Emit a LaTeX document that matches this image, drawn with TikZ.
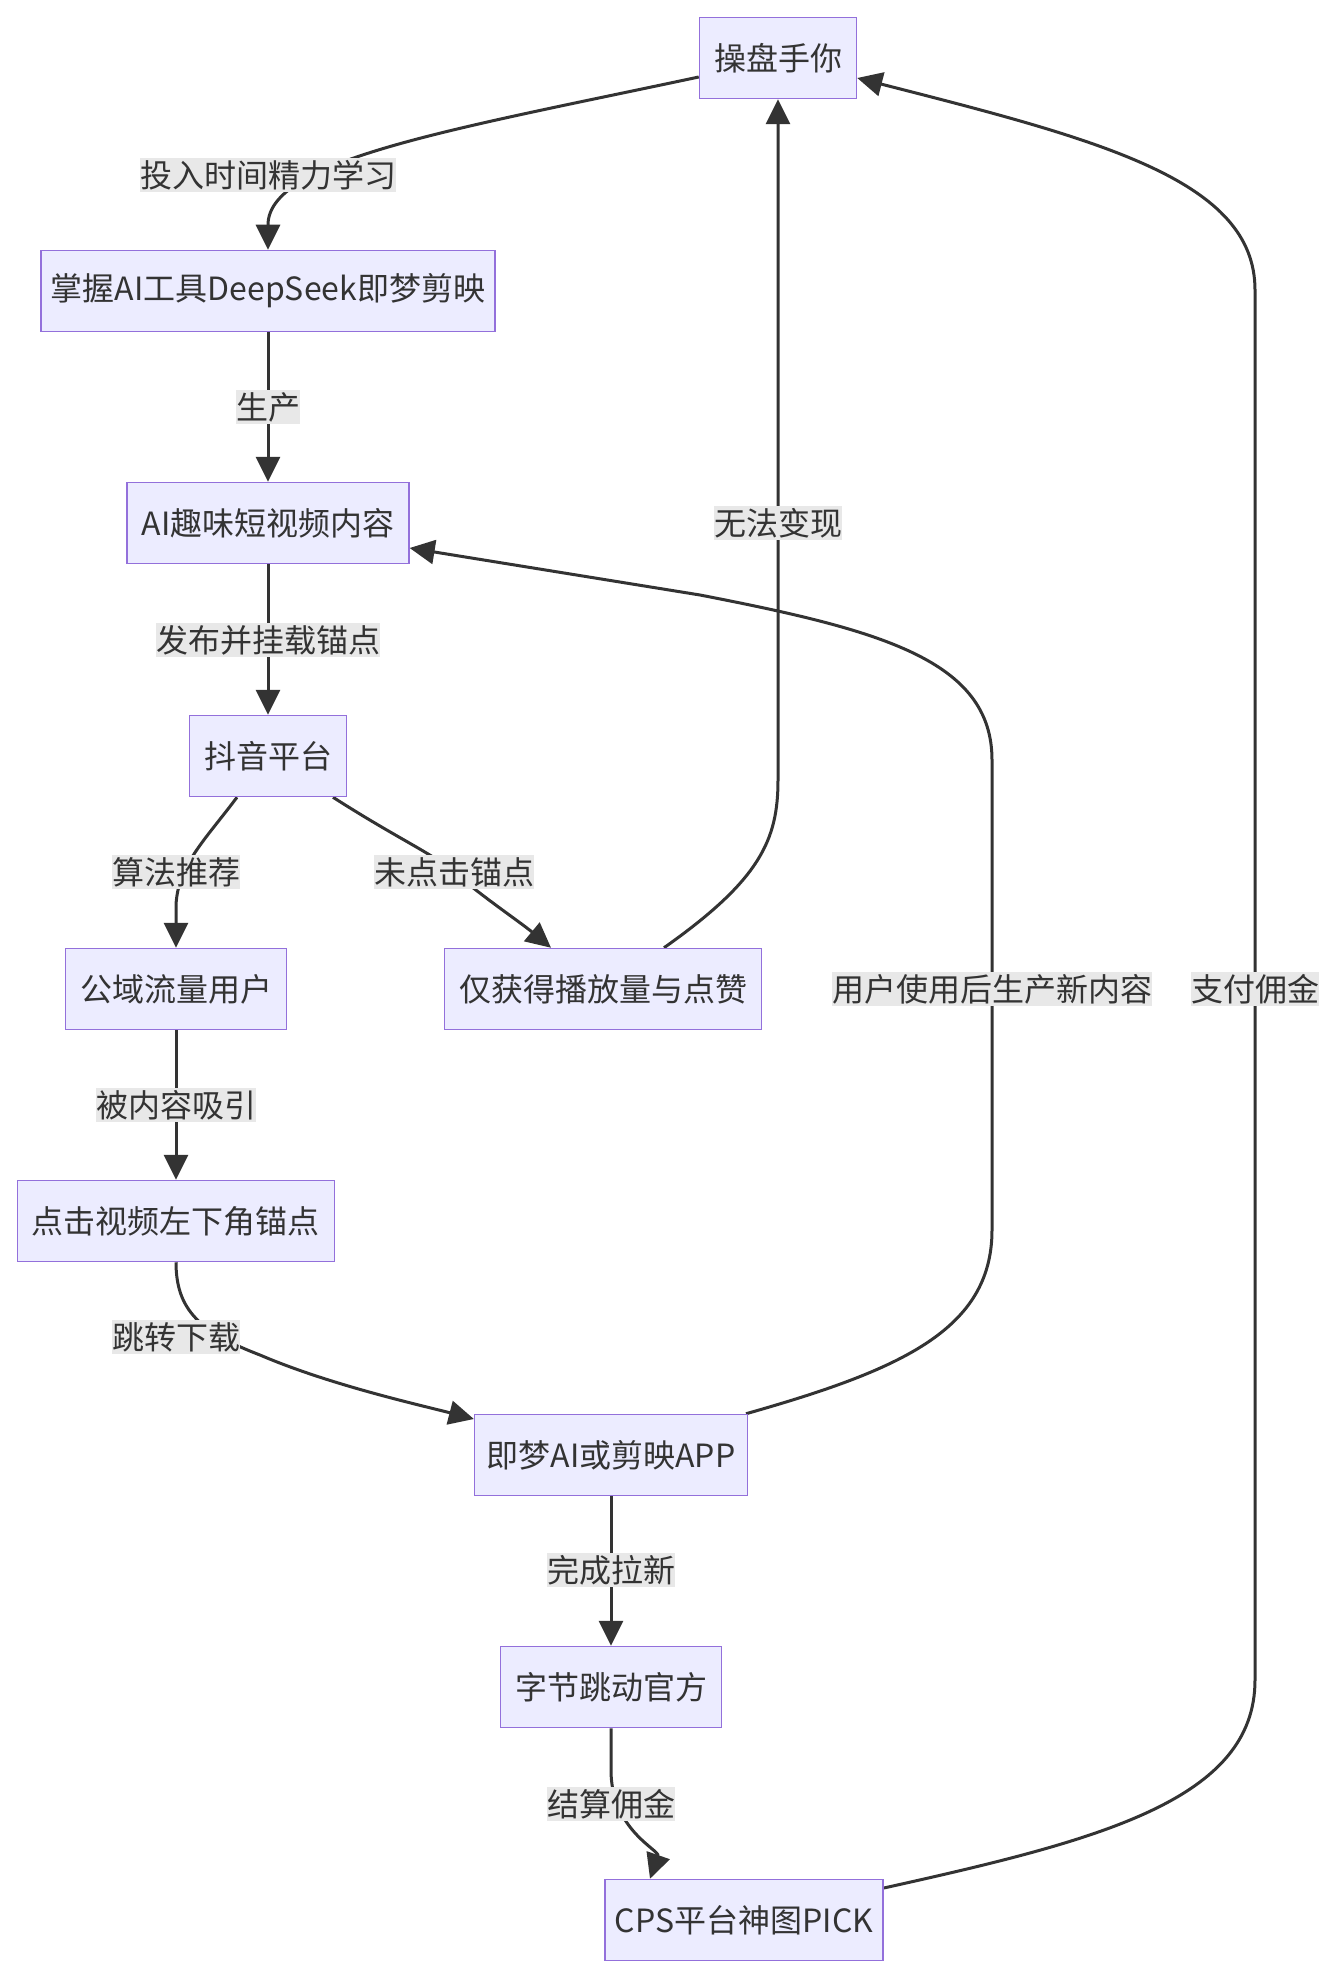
\documentclass[tikz,border=0pt]{standalone}
\usepackage{fontspec}
\setmainfont{Noto Sans CJK SC}
\usetikzlibrary{arrows.meta}
\definecolor{boxfill}{HTML}{ECECFF}
\definecolor{boxline}{HTML}{9370DB}
\definecolor{ink}{HTML}{333333}
\definecolor{lblfill}{HTML}{E8E8E8}
\pgfdeclarelayer{paper}
\pgfdeclarelayer{edges}
\pgfsetlayers{paper,edges,main}
\tikzset{
	box/.style={draw=boxline, fill=boxfill, line width=0.75pt, text=ink, minimum height=40.5pt, inner xsep=7.25pt, font=\fontsize{16pt}{19pt}\selectfont},
	lbl/.style={fill=lblfill, text=ink, inner xsep=0pt, inner ysep=1pt, font=\fontsize{16pt}{19pt}\selectfont},
	flow/.style={draw=ink, line width=1.5pt, -{Triangle[length=12.5pt,width=12pt]}},
}

\begin{document}
	\begin{tikzpicture}[x=0.5pt, y=-0.5pt]
		%%%%% START %%%%%
		
		\begin{pgfonlayer}{paper}
			\fill[white] (0, 0) rectangle (1336, 1974);
		\end{pgfonlayer}
		\useasboundingbox (0, 0) rectangle (1336, 1974);
		
		\node[box] (you) at (778, 58) {操盘手你};
		\node[box, inner xsep=5pt] (tools) at (268, 291) {掌握AI工具DeepSeek即梦剪映};
		\node[box] (video) at (268, 523) {AI趣味短视频内容};
		\node[box] (douyin) at (268, 756) {抖音平台};
		\node[box] (users) at (176, 989) {公域流量用户};
		\node[box] (likes) at (603, 989) {仅获得播放量与点赞};
		\node[box] (click) at (176, 1221) {点击视频左下角锚点};
		\node[box, inner xsep=6pt] (app) at (611, 1455) {即梦AI或剪映APP};
		\node[box] (bytedance) at (611, 1687) {字节跳动官方};
		\node[box, inner xsep=5pt] (cps) at (744, 1920) {CPS平台神图PICK};
		
		\node[lbl] (l-learn) at (268, 175) {投入时间精力学习};
		\node[lbl] (l-make) at (268, 407) {生产};
		\node[lbl] (l-post) at (268, 640) {发布并挂载锚点};
		\node[lbl] (l-algo) at (176, 872) {算法推荐};
		\node[lbl] (l-noclick) at (454, 872) {未点击锚点};
		\node[lbl] (l-nomoney) at (778, 523) {无法变现};
		\node[lbl] (l-attract) at (176, 1105) {被内容吸引};
		\node[lbl] (l-jump) at (176, 1337) {跳转下载};
		\node[lbl] (l-reuse) at (992, 989) {用户使用后生产新内容};
		\node[lbl] (l-signup) at (611, 1570) {完成拉新};
		\node[lbl] (l-settle) at (611, 1804) {结算佣金};
		\node[lbl] (l-pay) at (1255, 989) {支付佣金};
		
		\begin{pgfonlayer}{edges}
			\draw[flow] ([yshift=-9.5pt]you.west) .. controls (450, 130) and (268, 160) .. (268, 225) -- (tools.north);
			\draw[flow] (tools.south) -- (l-make.center) -- (video.north);
			\draw[flow] (video.south) -- (l-post.center) -- (douyin.north);
			
			\draw[flow] ([xshift=-15.5pt]douyin.south) .. controls (205, 840) and (178, 865) .. (176, 905) -- (users.north);
			\draw[flow] ([xshift=32.5pt]douyin.south) .. controls (400, 840) and (430, 852) .. (l-noclick.center) .. controls (480, 895) and (520, 922) .. ([xshift=-26pt]likes.north);
			\draw[flow] ([xshift=30.5pt]likes.north) .. controls (760, 880) and (778, 840) .. (778, 780) -- (l-nomoney.center) -- (you.south);
			
			\draw[flow] (users.south) -- (l-attract.center) -- (click.north);
			\draw[flow] (click.south) .. controls (176, 1310) and (200, 1332) .. (260, 1355) .. controls (330, 1385) and (420, 1405) .. ([yshift=18pt]app.west);
			\draw[flow] ([xshift=67.5pt]app.north) .. controls (900, 1370) and (992, 1330) .. (992, 1230) -- (l-reuse.center) -- (992, 760) .. controls (992, 660) and (880, 630) .. (700, 595) -- ([yshift=-12.5pt]video.east);
			
			\draw[flow] (app.south) -- (l-signup.center) -- (bytedance.north);
			\draw[flow] (bytedance.south) -- (611, 1770) .. controls (611, 1830) and (660, 1850) .. ([xshift=-47pt]cps.north);
			\draw[flow] ([yshift=16pt]cps.east) .. controls (1100, 1840) and (1255, 1800) .. (1255, 1680) -- (l-pay.center) -- (1255, 290) .. controls (1255, 180) and (1100, 140) .. ([yshift=-10pt]you.east);
		\end{pgfonlayer}
		
		%%%%% END %%%%%
	\end{tikzpicture}
\end{document}
